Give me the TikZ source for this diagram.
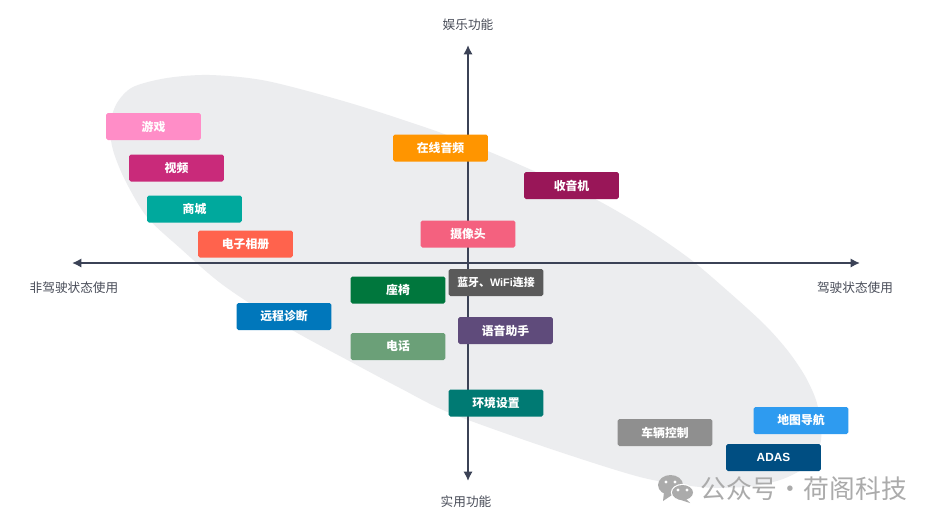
\documentclass[tikz,border=0pt]{standalone}
\usepackage{fontspec}
\setmainfont{Noto Sans CJK SC}
\newfontfamily\latinfont{Liberation Sans}
\usetikzlibrary{arrows.meta,positioning,shapes.geometric}
\definecolor{AxisNavy}{RGB}{59,66,86}
\definecolor{LabelGrey}{RGB}{72,76,88}
\definecolor{BlobGrey}{RGB}{236,237,239}
\definecolor{MarkGrey}{RGB}{171,171,171}
\definecolor{GamePink}{RGB}{255,141,199}
\definecolor{VideoRose}{RGB}{201,42,122}
\definecolor{MallTeal}{RGB}{0,169,157}
\definecolor{AlbumRed}{RGB}{255,99,77}
\definecolor{AudioOrange}{RGB}{255,149,0}
\definecolor{RadioWine}{RGB}{153,22,88}
\definecolor{CameraPink}{RGB}{244,97,127}
\definecolor{SeatGreen}{RGB}{0,119,61}
\definecolor{LinkGrey}{RGB}{90,90,90}
\definecolor{RemoteBlue}{RGB}{0,119,187}
\definecolor{VoicePurple}{RGB}{95,75,123}
\definecolor{PhoneGreen}{RGB}{107,160,120}
\definecolor{ClimateTeal}{RGB}{0,122,115}
\definecolor{ControlGrey}{RGB}{143,143,143}
\definecolor{MapBlue}{RGB}{46,155,240}
\definecolor{AdasBlue}{RGB}{0,78,130}
\tikzset{
  func/.style={rounded corners=1.5pt,minimum width=2.84cm,minimum height=0.81cm,
    inner sep=0pt,text=white,align=center,font=\bfseries\fontsize{10.1}{12}\selectfont},
  axislabel/.style={text=LabelGrey,inner sep=0pt,font=\fontsize{10.8}{13}\selectfont},
  axis/.style={{Latex[length=2.8mm,width=2.8mm]}-{Latex[length=2.8mm,width=2.8mm]},line width=1.7pt,AxisNavy},
  brandmark/.style={text=MarkGrey,inner sep=0pt,font=\fontsize{22}{26}\selectfont}
}
\begin{document}
\begin{tikzpicture}[x=0.03cm,y=-0.03cm]
      \useasboundingbox (0,0) rectangle (936,526);
      \fill[white] (0,0) rectangle (936,526);
      \fill[BlobGrey] plot [smooth cycle,tension=0.5] coordinates {(110,125) (117,103) (133,87) (167,78) (210,75)
        (267,81) (350,103) (433,130) (490,152) (545,176) (597,200) (645,228) (690,259) (730,293) (765,325)
        (788,351) (805,376) (816,400) (821,425) (820,445) (808,465) (790,476) (773,482) (745,487) (700,487)
        (640,477) (545,447) (450,413) (400,388) (353,363) (287,327) (223,285) (180,248) (147,217) (125,180) (113,150)};
      \coordinate (west) at (72,263);
      \coordinate (east) at (860,263);
      \coordinate (north) at (468,45);
      \coordinate (south) at (468,481);
      \draw[axis] (west) -- (east);
      \draw[axis] (north) -- (south);
      \node[axislabel] (fun) at (468,25) {娱乐功能};
      \node[axislabel] (practical) at (466,502) {实用功能};
      \node[axislabel] (parked) at (74,288) {非驾驶状态使用};
      \node[axislabel] (driving) at (855,288) {驾驶状态使用};
      \node[func,fill=GamePink] (game) at (153.5,126.5) {游戏};
      \node[func,fill=VideoRose] (video) at (176.5,168) {视频};
      \node[func,fill=MallTeal] (mall) at (194.5,209) {商城};
      \node[func,fill=AlbumRed] (album) at (245.5,244) {电子相册};
      \node[func,fill=AudioOrange] (audio) at (440.5,148) {在线音频};
      \node[func,fill=RadioWine] (radio) at (571.5,185.5) {收音机};
      \node[func,fill=CameraPink] (camera) at (468,234) {摄像头};
      \node[func,fill=SeatGreen] (seat) at (398,290) {座椅};
      \node[func,fill=LinkGrey] (link) at (496,282.5) {\fontsize{9.3}{12}\selectfont 蓝牙、{\latinfont WiFi}连接};
      \node[func,fill=RemoteBlue] (remote) at (284,316.5) {远程诊断};
      \node[func,fill=VoicePurple] (voice) at (505.5,330.5) {语音助手};
      \node[func,fill=PhoneGreen] (phone) at (398,346.5) {电话};
      \node[func,fill=ClimateTeal] (climate) at (496,403) {环境设置};
      \node[func,fill=ControlGrey] (control) at (665,432.5) {车辆控制};
      \node[func,fill=MapBlue] (map) at (801,420.5) {地图导航};
      \node[func,fill=AdasBlue] (adas) at (773.5,457.5) {\latinfont ADAS};
      % watermark
      \fill[MarkGrey] (670.5,485) ellipse [x radius=0.375cm,y radius=0.3cm];
      \fill[MarkGrey] (664,492) -- (663,501) -- (672,495) -- cycle;
      \fill[white] (682.5,492.5) ellipse [x radius=0.35cm,y radius=0.26cm];
      \fill[MarkGrey] (682.5,492.5) ellipse [x radius=0.315cm,y radius=0.225cm];
      \fill[MarkGrey] (685,498) -- (690,503) -- (678,499) -- cycle;
      \foreach \x/\y in {666/482,675/482,678/490,687/490}
        \fill[white] (\x,\y) circle [radius=0.05cm];
      \node[brandmark,anchor=west] (brand) at (700,488.5) {公众号\hspace{-4.7pt} · \hspace{-4.7pt}荷阁科技};
    \end{tikzpicture}
\end{document}
